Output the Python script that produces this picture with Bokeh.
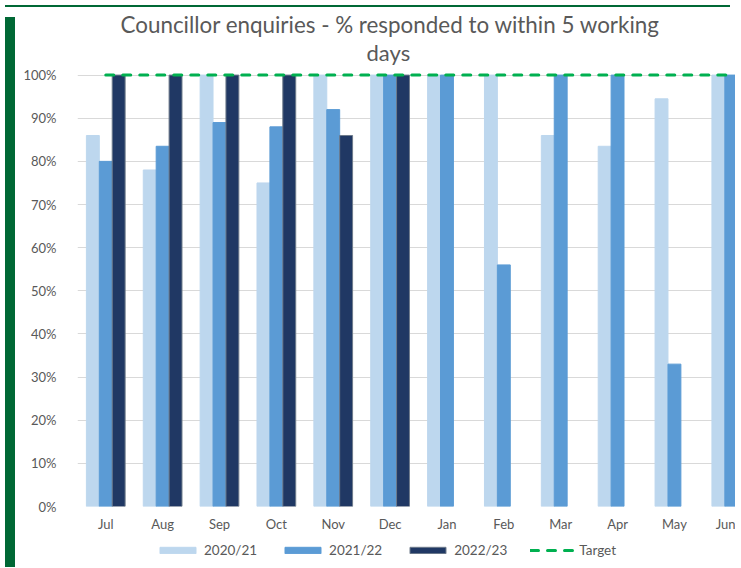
from bokeh.plotting import figure
from bokeh.models import (Range1d, FixedTicker, PrintfTickFormatter, Title, Legend,
                          LegendItem, Div)
from bokeh.layouts import row, column
from bokeh.embed import file_html
from bokeh.resources import INLINE

months = ["Jul", "Aug", "Sep", "Oct", "Nov", "Dec", "Jan", "Feb", "Mar", "Apr", "May", "Jun"]
y2020_21 = [86, 78, 100, 75, 100, 100, 100, 100, 86, 83.5, 94.5, 100]
y2021_22 = [80, 83.5, 89, 88, 92, 100, 100, 56, 100, 100, 33, 100]
y2022_23 = [100, 100, 100, 100, 86, 100, None, None, None, None, None, None]
target = [100] * 12
series_names = ["2020/21", "2021/22", "2022/23"]
colors = ["#BDD7EE", "#5B9BD5", "#203864"]
dark_outline = "#6E7B8B"
target_color = "#00B050"

FONT = "Lato"
TXT = "#595959"

idx = list(range(len(months)))
bw = 0.227

# ---------------- main chart ----------------
p = figure(width=715, height=526, output_backend="svg", toolbar_location=None,
           x_range=Range1d(-0.497, 11.074), y_range=Range1d(0, 100.6),
           min_border_left=52, min_border_right=0, min_border_top=60, min_border_bottom=32,
           background_fill_color="white", border_fill_color="white")
p.outline_line_color = None

for k, (vals, col) in enumerate(zip([y2020_21, y2021_22, y2022_23], colors)):
    xs = [i + (k - 1) * bw for i, v in zip(idx, vals) if v is not None]
    ts = [v for v in vals if v is not None]
    lc = dark_outline if k == 2 else col
    p.vbar(x=xs, top=ts, bottom=0, width=bw, fill_color=col, line_color=lc, line_width=1)

p.line(x=idx, y=target, line_color=target_color, line_width=3, line_dash="8 9", line_cap="round")

p.xgrid.grid_line_color = None
p.ygrid.grid_line_color = "#D9D9D9"
p.ygrid.grid_line_width = 1
p.ygrid.ticker = FixedTicker(ticks=list(range(0, 101, 10)))

p.yaxis.ticker = FixedTicker(ticks=list(range(0, 101, 10)))
p.yaxis.formatter = PrintfTickFormatter(format="%d%%")
p.xaxis.ticker = FixedTicker(ticks=idx)
p.xaxis.major_label_overrides = {i: m for i, m in enumerate(months)}
for ax in (p.xaxis[0], p.yaxis[0]):
    ax.axis_line_color = None
    ax.major_tick_line_color = None
    ax.minor_tick_line_color = None
    ax.major_label_text_font = FONT
    ax.major_label_text_font_size = "13px"
    ax.major_label_text_color = TXT
p.yaxis.major_label_standoff = 15
p.xaxis.major_label_standoff = 3

t2 = Title(text="days", align="left", text_font=FONT, text_font_size="22px",
           text_color=TXT, text_font_style="normal", offset=289, standoff=13)
t1 = Title(text="Councillor enquiries - % responded to within 5 working", align="left",
           text_font=FONT, text_font_size="22.4px", text_color=TXT, text_font_style="normal",
           offset=43, standoff=-15)
p.add_layout(t2, "above")
p.add_layout(t1, "above")

# ---------------- legend strip ----------------
q = figure(width=715, height=24, output_backend="svg", toolbar_location=None,
           x_axis_type=None, y_axis_type=None, x_range=Range1d(0, 1), y_range=Range1d(0, 1),
           min_border_left=0, min_border_right=0, min_border_top=0, min_border_bottom=0,
           background_fill_color="white", border_fill_color="white")
q.outline_line_color = None
q.grid.visible = False
lrs = []
for k, col in enumerate(colors):
    lc = dark_outline if k == 2 else col
    lrs.append(q.vbar(x=[-5], top=[0], bottom=[0], width=0.1, fill_color=col,
                      line_color=lc, line_width=1))
lrs.append(q.line(x=[-5, -4], y=[0, 0], line_color=target_color, line_width=3,
                  line_dash="8 9", line_cap="round"))
items = [LegendItem(label=n, renderers=[r]) for n, r in zip(series_names + ["Target"], lrs)]
leg = Legend(items=items, orientation="horizontal", location=(78, 4),
             border_line_color=None, background_fill_alpha=0,
             glyph_width=45, glyph_height=8, label_standoff=4, spacing=23,
             label_text_font=FONT, label_text_font_size="13.5px", label_text_color=TXT,
             padding=0, margin=0)
q.add_layout(leg, "center")

strip = Div(width=10, height=550, styles={"background-color": "#006835"})
top = Div(width=725, height=2, styles={"background-color": "#006835"})
layout = column(top, row(strip, column(p, q, spacing=0), spacing=0), spacing=0)

open("out.html", "w").write(file_html(layout, INLINE))
